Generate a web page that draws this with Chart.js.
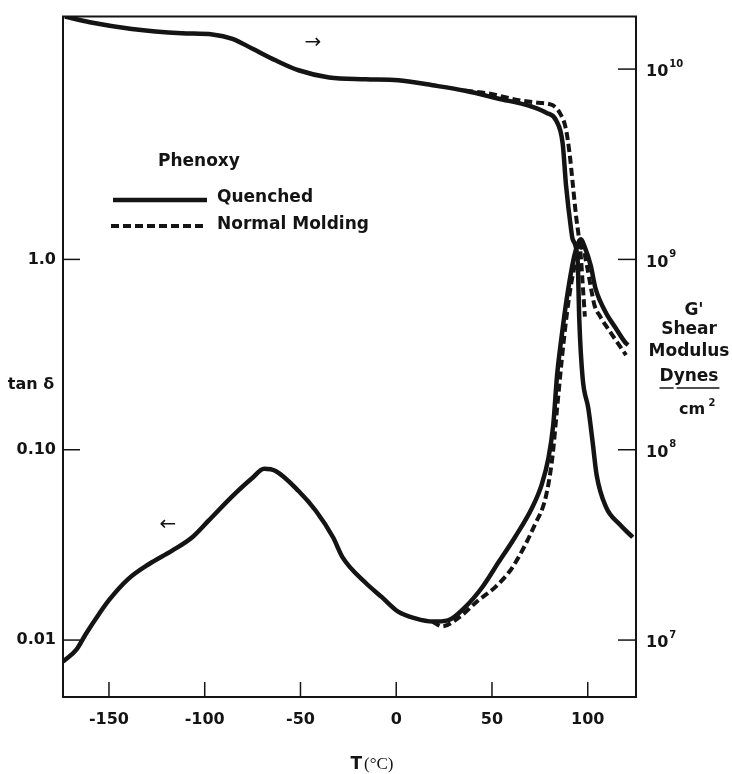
<!DOCTYPE html>
<html>
<head>
<meta charset="utf-8">
<script src="https://cdn.jsdelivr.net/npm/chart.js@4.4.1/dist/chart.umd.min.js"></script>
<style>
  html, body { margin: 0; padding: 0; background: #fff; }
  #wrap { width: 732px; height: 774px; position: relative; }
</style>
</head>
<body>
<div id="wrap"><canvas id="chart"></canvas></div>
<script>
// tan delta, quenched sample (solid)
const tempTanQ = [-174, -167, -162, -155, -150, -140, -129, -117, -106.5, -98, -85.5, -75, -69, -63, -51, -42, -33, -28, -16, -7.5, 1, 10, 19, 27, 36, 45, 53.5, 62, 71, 76, 79.5, 82, 84, 86, 87.8, 90.4, 93, 95, 96.5, 98.2, 101.5, 104, 106.5, 110, 114.5, 119.5, 121];
const tanQ = [0.0077, 0.0089, 0.0108, 0.0138, 0.0162, 0.0209, 0.0251, 0.0295, 0.0347, 0.0424, 0.0571, 0.0713, 0.0794, 0.0773, 0.0607, 0.0478, 0.0347, 0.0272, 0.0200, 0.0168, 0.0141, 0.0130, 0.0125, 0.0127, 0.0149, 0.0190, 0.0257, 0.0347, 0.0497, 0.0658, 0.0906, 0.1355, 0.247, 0.369, 0.508, 0.759, 1.045, 1.216, 1.276, 1.178, 0.933, 0.708, 0.603, 0.513, 0.437, 0.367, 0.355];

// tan delta, normal molding (dashed)
const tempTanN = [19, 24, 33, 43, 52, 60.8, 72.5, 78, 81.5, 84, 86.5, 89, 91.5, 94, 96, 97, 99.5, 101.5, 103.5, 106.5, 109.6, 115, 120];
const tanN = [0.0125, 0.0118, 0.0132, 0.0162, 0.0191, 0.0242, 0.0406, 0.056, 0.0906, 0.165, 0.301, 0.508, 0.759, 1.0, 1.148, 1.175, 0.933, 0.724, 0.575, 0.501, 0.447, 0.372, 0.314];

// G' shear modulus (dynes/cm2), quenched (solid)
const tempGQ = [-173, -160, -138, -112, -96, -85.5, -75, -63, -51, -35, -16, 1, 19, 36, 53, 71, 78.5, 83.5, 86.9, 88.7, 91.3, 92.1, 94.7, 95.6, 97.3, 100.3, 102.5, 104.6, 109.5, 116.5, 123.5];
const gQ = [1.888e10, 1.762e10, 1.626e10, 1.545e10, 1.521e10, 1.442e10, 1.279e10, 1.112e10, 9.86e9, 9.04e9, 8.85e9, 8.74e9, 8.22e9, 7.69e9, 7.01e9, 6.34e9, 5.89e9, 5.37e9, 4.08e9, 2.43e9, 1.44e9, 1.28e9, 1.0e9, 4.79e8, 2.40e8, 1.65e8, 1.11e8, 7.41e7, 5.01e7, 4.07e7, 3.47e7];

// G' normal molding (dashed)
const tempGN = [36, 48, 64, 74.5, 81.5, 86, 88.5, 90.5, 92.3, 93.9, 95.3, 96.5, 97.5, 98.5];
const gN = [7.69e9, 7.45e9, 6.87e9, 6.65e9, 6.47e9, 5.75e9, 4.90e9, 3.62e9, 2.43e9, 1.69e9, 1.32e9, 1.0e9, 7.08e8, 5.01e8];

const xTicks = [-150, -100, -50, 0, 50, 100];
const tanTicks = [0.01, 0.1, 1];
const tanTickLabels = ['0.01', '0.10', '1.0'];
const gTicks = [1e7, 1e8, 1e9, 1e10];
const gTickExp = ['7', '8', '9', '10'];

const INK = '#141414';
const SANS = '"DejaVu Sans", sans-serif';

function pts(xs, ys) {
  return xs.map((x, i) => ({ x: x, y: ys[i] }));
}

function line(ctx, x1, y1, x2, y2) {
  ctx.beginPath();
  ctx.moveTo(x1, y1);
  ctx.lineTo(x2, y2);
  ctx.stroke();
}

const overlay = {
  id: 'overlay',
  afterDraw(chart) {
    const { ctx, chartArea: a, scales } = chart;
    ctx.save();
    ctx.strokeStyle = INK;
    ctx.fillStyle = INK;

    // top frame
    ctx.lineWidth = 2;
    line(ctx, a.left - 1, a.top, a.right + 1, a.top);

    // inward tick marks
    ctx.lineWidth = 1.5;
    xTicks.forEach(v => {
      const px = scales.x.getPixelForValue(v);
      line(ctx, px, a.bottom, px, a.bottom - 15);
    });
    tanTicks.forEach(v => {
      const py = scales.y.getPixelForValue(v);
      line(ctx, a.left, py, a.left + 17, py);
    });
    gTicks.forEach(v => {
      const py = scales.y2.getPixelForValue(v);
      line(ctx, a.right, py, a.right - 18, py);
    });

    // right tick labels 10^n
    ctx.textBaseline = 'middle';
    ctx.textAlign = 'left';
    gTicks.forEach((v, i) => {
      const py = scales.y2.getPixelForValue(v) + 3;
      ctx.font = 'bold 16px ' + SANS;
      const x0 = a.right + 10;
      ctx.fillText('10', x0, py);
      const w = ctx.measureText('10').width;
      ctx.font = 'bold 10px ' + SANS;
      ctx.fillText(gTickExp[i], x0 + w + 1, py - 8);
    });

    // left axis title
    ctx.textAlign = 'center';
    ctx.font = 'bold 16px ' + SANS;
    ctx.fillText('tan δ', 31, 385);

    // bottom axis title
    ctx.font = 'bold 17px ' + SANS;
    const tw = ctx.measureText('T').width;
    ctx.font = '17px "Liberation Serif", serif';
    const pw = ctx.measureText('(°C)').width;
    const tx = 372 - (tw + pw + 2) / 2;
    ctx.textAlign = 'left';
    ctx.font = 'bold 17px ' + SANS;
    ctx.fillText('T', tx, 765);
    ctx.font = '17px "Liberation Serif", serif';
    ctx.fillText('(°C)', tx + tw + 2, 765);

    // right axis title block
    ctx.textAlign = 'center';
    ctx.font = 'bold 17px ' + SANS;
    const rx = 689;
    ctx.fillText("G'", rx + 5, 311);
    ctx.fillText('Shear', rx, 330);
    ctx.fillText('Modulus', rx, 352);
    ctx.fillText('Dynes', rx, 377);
    const dw = ctx.measureText('Dynes').width;
    const dd = ctx.measureText('D').width;
    ctx.lineWidth = 1.5;
    line(ctx, rx - dw / 2, 388, rx - dw / 2 + dd, 388);
    line(ctx, rx - dw / 2 + dd + 3, 388, rx + dw / 2 + 1, 388);
    ctx.font = 'bold 16px ' + SANS;
    ctx.fillText('cm', rx + 3, 410);
    ctx.font = 'bold 10px ' + SANS;
    ctx.fillText('2', rx + 23, 403);

    // legend
    ctx.textAlign = 'left';
    ctx.font = 'bold 17px ' + SANS;
    ctx.fillText('Phenoxy', 158, 162);
    ctx.fillText('Quenched', 217, 198);
    ctx.fillText('Normal Molding', 217, 225);
    ctx.lineWidth = 4.5;
    line(ctx, 113, 200, 207, 200);
    ctx.lineWidth = 4;
    ctx.setLineDash([8, 4]);
    line(ctx, 111, 226, 206, 226);
    ctx.setLineDash([]);

    // direction arrows
    ctx.textAlign = 'center';
    ctx.font = '20px ' + SANS;
    ctx.fillText('→', 313, 43);
    ctx.fillText('←', 168, 525);

    ctx.restore();
  }
};

const common = {
  borderColor: INK,
  pointRadius: 0,
  fill: false,
  cubicInterpolationMode: 'monotone',
  borderCapStyle: 'butt'
};

new Chart(document.getElementById('chart'), {
  type: 'line',
  data: {
    datasets: [
      Object.assign({ label: 'tan δ Quenched', data: pts(tempTanQ, tanQ), yAxisID: 'y', borderWidth: 4.5 }, common),
      Object.assign({ label: 'tan δ Normal Molding', data: pts(tempTanN, tanN), yAxisID: 'y', borderWidth: 4, borderDash: [8, 4] }, common),
      Object.assign({ label: "G' Quenched", data: pts(tempGQ, gQ), yAxisID: 'y2', borderWidth: 4.5 }, common),
      Object.assign({ label: "G' Normal Molding", data: pts(tempGN, gN), yAxisID: 'y2', borderWidth: 4, borderDash: [8, 4] }, common)
    ]
  },
  options: {
    responsive: true,
    maintainAspectRatio: false,
    animation: false,
    layout: { padding: { top: 12, left: 0, right: 0, bottom: 0 } },
    plugins: {
      legend: { display: false },
      tooltip: { enabled: false }
    },
    scales: {
      x: {
        type: 'linear',
        position: 'bottom',
        min: -174,
        max: 125.2,
        afterBuildTicks: s => { s.ticks = xTicks.map(v => ({ value: v })); },
        afterFit: s => { s.height = 77; },
        grid: { display: false, drawTicks: false },
        border: { color: INK, width: 2 },
        ticks: {
          color: INK,
          padding: 13,
          maxRotation: 0,
          font: { family: SANS, size: 16, weight: 'bold' },
          callback: v => (v < 0 ? '-' + Math.abs(v) : String(v))
        }
      },
      y: {
        type: 'logarithmic',
        position: 'left',
        min: 0.005022,
        max: 18.87,
        afterBuildTicks: s => { s.ticks = tanTicks.map(v => ({ value: v })); },
        afterFit: s => { s.width = 63; },
        grid: { display: false, drawTicks: false },
        border: { color: INK, width: 2 },
        ticks: {
          color: INK,
          padding: 7,
          font: { family: SANS, size: 16, weight: 'bold' },
          callback: (v, i) => tanTickLabels[i]
        }
      },
      y2: {
        type: 'logarithmic',
        position: 'right',
        min: 5.022e6,
        max: 1.887e10,
        afterBuildTicks: s => { s.ticks = gTicks.map(v => ({ value: v })); },
        afterFit: s => { s.width = 96; },
        grid: { display: false, drawTicks: false },
        border: { color: INK, width: 2 },
        ticks: { display: false }
      }
    }
  },
  plugins: [overlay]
});
</script>
</body>
</html>
